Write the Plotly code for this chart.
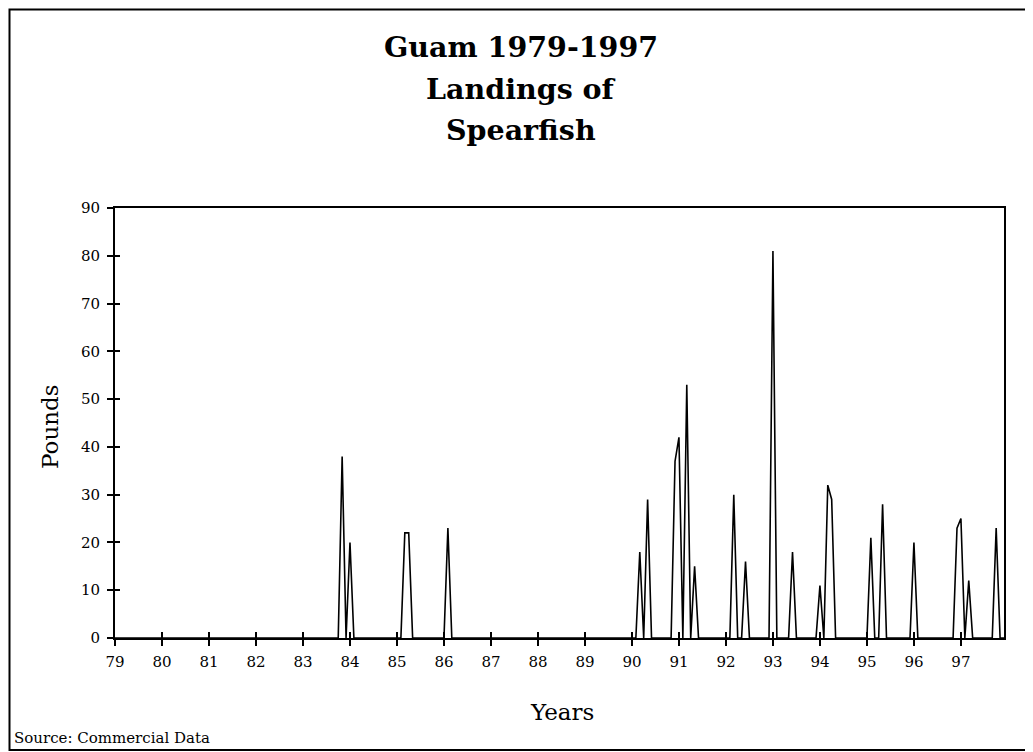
import plotly.graph_objects as go

# Monthly landings (pounds), Jan..Dec, per year
years = list(range(79, 98))
p1979 = [0, 0, 0, 0, 0, 0, 0, 0, 0, 0, 0, 0]
p1980 = [0, 0, 0, 0, 0, 0, 0, 0, 0, 0, 0, 0]
p1981 = [0, 0, 0, 0, 0, 0, 0, 0, 0, 0, 0, 0]
p1982 = [0, 0, 0, 0, 0, 0, 0, 0, 0, 0, 0, 0]
p1983 = [0, 0, 0, 0, 0, 0, 0, 0, 0, 0, 38, 0]
p1984 = [20, 0, 0, 0, 0, 0, 0, 0, 0, 0, 0, 0]
p1985 = [0, 0, 22, 22, 0, 0, 0, 0, 0, 0, 0, 0]
p1986 = [0, 23, 0, 0, 0, 0, 0, 0, 0, 0, 0, 0]
p1987 = [0, 0, 0, 0, 0, 0, 0, 0, 0, 0, 0, 0]
p1988 = [0, 0, 0, 0, 0, 0, 0, 0, 0, 0, 0, 0]
p1989 = [0, 0, 0, 0, 0, 0, 0, 0, 0, 0, 0, 0]
p1990 = [0, 0, 18, 0, 29, 0, 0, 0, 0, 0, 0, 37]
p1991 = [42, 0, 53, 0, 15, 0, 0, 0, 0, 0, 0, 0]
p1992 = [0, 0, 30, 0, 0, 16, 0, 0, 0, 0, 0, 0]
p1993 = [81, 0, 0, 0, 0, 18, 0, 0, 0, 0, 0, 0]
p1994 = [11, 0, 32, 29, 0, 0, 0, 0, 0, 0, 0, 0]
p1995 = [0, 21, 0, 0, 28, 0, 0, 0, 0, 0, 0, 0]
p1996 = [20, 0, 0, 0, 0, 0, 0, 0, 0, 0, 0, 23]
p1997 = [25, 0, 12, 0, 0, 0, 0, 0, 0, 23, 0, 0]

yearly = [p1979, p1980, p1981, p1982, p1983, p1984, p1985, p1986, p1987, p1988,
          p1989, p1990, p1991, p1992, p1993, p1994, p1995, p1996, p1997]
year_labels = [str(y) for y in years]
y_ticks = [0, 10, 20, 30, 40, 50, 60, 70, 80, 90]

xs, ys = [], []
for yr, vals in zip(years, yearly):
    for m, v in enumerate(vals):
        xs.append(yr + m / 12.0)
        ys.append(v)

SERIF = "DejaVu Serif"
OFF = 8  # page body margin
W, H = 1033, 744
# plot area in screen pixels: x 115..1004, y 208..638
L = 115 - OFF
T = 208 - OFF
R = W - (1004 - OFF)
B = H - (638 - OFF)
pw, ph = W - L - R, H - T - B

def px_x(sx):
    return (sx - OFF - L) / pw

def px_y(sy):
    return (H - B - (sy - OFF)) / ph

fig = go.Figure()
fig.add_trace(go.Scatter(x=xs, y=ys, mode="lines",
                         line=dict(color="black", width=1.6),
                         hoverinfo="x+y", showlegend=False))
# invisible trace on overlay axes so their inside ticks are drawn
fig.add_trace(go.Scatter(x=[xs[0]], y=[0], xaxis="x2", yaxis="y2", mode="markers",
                         marker=dict(opacity=0), hoverinfo="skip", showlegend=False))

xrange = [79, 97 + 11 / 12.0]
axis_common = dict(showgrid=False, zeroline=False)

fig.update_layout(
    width=W, height=H,
    margin=dict(l=L, r=R, t=T, b=B),
    paper_bgcolor="white", plot_bgcolor="white",
    font=dict(family=SERIF, color="black", size=15),
    xaxis=dict(range=xrange, tickmode="array", tickvals=years, ticktext=year_labels,
               ticks="outside", ticklen=6, tickwidth=1.5, tickcolor="black",
               showline=True, linewidth=2, linecolor="black", mirror=True,
               ticklabelstandoff=3,
               tickfont=dict(family=SERIF, size=15, color="black"), **axis_common),
    yaxis=dict(range=[0, 90], tickmode="array", tickvals=y_ticks,
               ticks="outside", ticklen=6, tickwidth=1.5, tickcolor="black",
               showline=True, linewidth=2, linecolor="black", mirror=True,
               ticklabelstandoff=4,
               tickfont=dict(family=SERIF, size=15, color="black"), **axis_common),
    xaxis2=dict(range=xrange, overlaying="x", anchor="y", side="bottom",
                tickmode="array", tickvals=years, ticks="inside", ticklen=6,
                tickwidth=1.5, tickcolor="black", showticklabels=False,
                showline=False, **axis_common),
    yaxis2=dict(range=[0, 90], overlaying="y", anchor="x", side="left",
                tickmode="array", tickvals=y_ticks, ticks="inside", ticklen=5,
                tickwidth=1.5, tickcolor="black", showticklabels=False,
                showline=False, **axis_common),
    showlegend=False,
)

title_lines = ["Guam 1979-1997", "Landings of", "Spearfish"]
title_centers = [47, 89, 130]
for txt, cy in zip(title_lines, title_centers):
    fig.add_annotation(text="<b>%s</b>" % txt, xref="paper", yref="paper",
                       x=px_x(521), y=px_y(cy), xanchor="center", yanchor="middle",
                       showarrow=False, font=dict(family=SERIF, size=28.5, color="black"))

fig.add_annotation(text="Years", xref="paper", yref="paper", x=px_x(562), y=px_y(712),
                   xanchor="center", yanchor="middle", showarrow=False,
                   font=dict(family=SERIF, size=23, color="black"))
fig.add_annotation(text="Pounds", xref="paper", yref="paper", x=px_x(50), y=px_y(427),
                   xanchor="center", yanchor="middle", textangle=-90, showarrow=False,
                   font=dict(family=SERIF, size=23, color="black"))
fig.add_annotation(text="Source: Commercial Data", xref="paper", yref="paper",
                   x=px_x(12), y=px_y(738), xanchor="left", yanchor="middle",
                   showarrow=False, font=dict(family=SERIF, size=15, color="black"))

# outer frame
fig.add_shape(type="rect", xref="paper", yref="paper",
              x0=px_x(9.5), x1=px_x(1060), y0=px_y(750), y1=px_y(9.5),
              line=dict(color="black", width=2), fillcolor="rgba(0,0,0,0)", layer="below")

fig.write_html("out.html")
